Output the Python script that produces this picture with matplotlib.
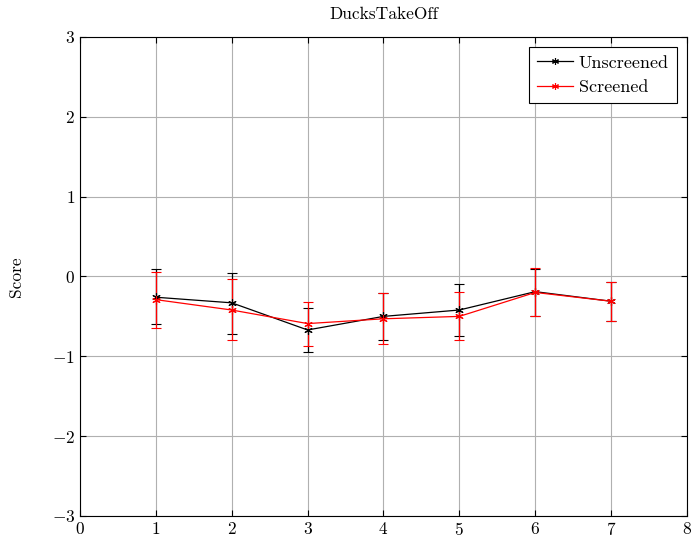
import matplotlib
matplotlib.use("Agg")
import matplotlib.pyplot as plt
from matplotlib.lines import Line2D
import numpy as np

plt.rcParams['font.family'] = 'serif'
plt.rcParams['font.serif'] = ['cmr10', 'DejaVu Serif']
plt.rcParams['mathtext.fontset'] = 'cm'
plt.rcParams['axes.formatter.use_mathtext'] = True

x = [1, 2, 3, 4, 5, 6, 7]
unscreened = [-0.26, -0.33, -0.67, -0.50, -0.42, -0.19, -0.31]
unscreened_lo = [-0.60, -0.72, -0.945, -0.80, -0.74, -0.49, -0.56]
unscreened_hi = [0.09, 0.04, -0.39, -0.21, -0.10, 0.09, -0.07]
screened = [-0.29, -0.42, -0.59, -0.53, -0.50, -0.20, -0.31]
screened_lo = [-0.65, -0.79, -0.87, -0.84, -0.80, -0.50, -0.56]
screened_hi = [0.06, -0.03, -0.32, -0.21, -0.20, 0.10, -0.07]

fig = plt.figure(figsize=(6.93, 5.39), dpi=100)
ax = fig.add_axes([0.1154, 0.0427, 0.8759, 0.8887])

MARK = (6, 2, 0)

def draw(y, lo, hi, color, label):
    y = np.array(y); lo = np.array(lo); hi = np.array(hi)
    ax.errorbar(x, y, yerr=[y - lo, hi - y], color=color, lw=0.9,
                marker=MARK, ms=6, mew=0.8, capsize=3.5, capthick=0.9,
                elinewidth=0.9, zorder=3)
    return Line2D([], [], color=color, lw=0.9, marker=MARK, ms=5, mew=0.8, label=label)

h1 = draw(unscreened, unscreened_lo, unscreened_hi, 'black', 'Unscreened')
h2 = draw(screened, screened_lo, screened_hi, 'red', 'Screened')

ax.set_xlim(0, 8)
ax.set_ylim(-3, 3)
ax.set_xticks(range(0, 9))
ax.set_yticks(range(-3, 4))
ax.grid(True, color='#b0b0b0', lw=0.8)
ax.set_axisbelow(True)
ax.tick_params(direction='in', top=True, right=True, labelsize=12.5, length=4)
for s in ax.spines.values():
    s.set_linewidth(0.8)
ax.set_title('DucksTakeOff', fontsize=12.5, pad=13)
ax.set_ylabel('Score', fontsize=12.5, labelpad=20)
leg = ax.legend(handles=[h1, h2], loc='upper right', fontsize=13, frameon=True,
                fancybox=False, edgecolor='black', framealpha=1, handlelength=2.0,
                borderaxespad=0.55, handletextpad=0.3, borderpad=0.45, labelspacing=0.5)
leg.get_frame().set_linewidth(0.8)

fig.savefig('out.png', dpi=100)
